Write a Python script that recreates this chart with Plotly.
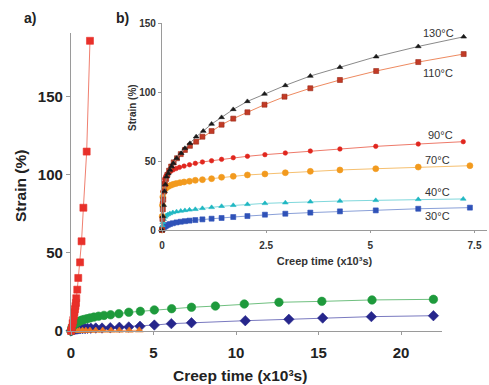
import plotly.graph_objects as go

# ---------------- Panel a) data (time in x10^3 s, strain %) ----------------
a_red_x = [0.0, 0.05, 0.1, 0.14, 0.18, 0.21, 0.24, 0.27, 0.3, 0.32, 0.38, 0.44, 0.55, 0.64, 0.75, 0.95, 1.15]
a_red_y = [0.0, 2.0, 5.0, 7.0, 10.0, 12.0, 14.0, 16.0, 18.0, 21.0, 26.5, 34.0, 44.0, 57.5, 79.0, 115.0, 186.0]

a_green_x = [0.0, 0.05, 0.1, 0.16, 0.22, 0.27, 0.32, 0.39, 0.46, 0.56, 0.67, 0.8, 0.97, 1.16, 1.39, 1.67, 2.0, 2.4,
             2.9, 3.5, 4.2, 5.05, 6.1, 7.3, 8.75, 10.5, 12.6, 15.2, 18.24, 21.96]
a_green_y = [0.0, 2.0, 3.0, 3.8, 4.4, 4.8, 5.2, 5.6, 6.0, 6.5, 7.0, 7.4, 7.9, 8.4, 8.9, 9.5, 10.0, 10.4,
             11.1, 12.0, 12.6, 13.5, 14.3, 15.2, 16.0, 17.3, 18.4, 19.0, 19.9, 20.3]

a_blue_x = [0.0, 0.1, 0.2, 0.3, 0.42, 0.55, 0.7, 0.85, 1.0, 1.2, 1.5, 1.88, 2.38, 2.93, 3.5, 4.18, 5.05, 6.08, 7.3,
            10.56, 13.2, 15.25, 18.2, 21.96]
a_blue_y = [0.0, 0.6, 0.9, 1.1, 1.3, 1.4, 1.5, 1.6, 1.7, 1.8, 1.9, 1.9, 2.1, 2.4, 2.6, 3.0, 3.8, 4.7, 5.3,
            6.6, 7.5, 8.3, 9.2, 9.8]

a_orange_x = [0.0, 0.1, 0.2, 0.35, 0.5, 0.7, 0.9, 1.15, 1.5, 1.92, 2.42, 2.93, 3.53, 4.14]
a_orange_y = [0.0, 0.1, 0.15, 0.2, 0.2, 0.25, 0.25, 0.3, 0.3, 0.35, 0.35, 0.4, 0.4, 0.45]

a_xticks = [0, 5, 10, 15, 20]
a_yticks = [0, 50, 100, 150]

# ---------------- Panel b) data ----------------
b130_x = [0.0, 0.02, 0.04, 0.06, 0.08, 0.11, 0.15, 0.19, 0.23, 0.27, 0.35, 0.46, 0.55, 0.67, 0.82, 0.99, 1.19,
          1.43, 1.71, 2.05, 2.46, 2.96, 3.56, 4.27, 5.14, 6.15, 7.24]
b130_y = [0.0, 10.0, 18.0, 28.0, 33.0, 38.6, 41.0, 43.5, 46.0, 48.3, 52.0, 55.6, 59.2, 62.8, 67.6, 71.7, 76.8,
          81.6, 87.4, 93.2, 98.6, 104.8, 111.6, 118.0, 125.6, 133.0, 140.0]

b110_x = [0.0, 0.01, 0.02, 0.03, 0.05, 0.07, 0.1, 0.13, 0.17, 0.22, 0.28, 0.36, 0.45, 0.55, 0.67, 0.82, 0.97,
          1.19, 1.43, 1.71, 2.05, 2.46, 2.94, 3.56, 4.27, 5.14, 6.15, 7.24]
b110_y = [0.0, 8.0, 15.0, 22.0, 28.0, 33.0, 37.0, 40.0, 43.0, 46.0, 49.0, 52.0, 55.0, 58.0, 61.0, 64.0, 67.6,
          71.7, 76.3, 80.7, 85.3, 90.8, 96.6, 102.7, 108.7, 115.2, 121.7, 127.5]

b90_x = [0.0, 0.01, 0.02, 0.04, 0.06, 0.09, 0.12, 0.16, 0.21, 0.27, 0.34, 0.42, 0.53, 0.66, 0.8, 0.97, 1.19,
         1.43, 1.71, 2.05, 2.47, 2.96, 3.56, 4.27, 5.13, 6.15, 7.23]
b90_y = [0.0, 20.0, 28.0, 34.0, 37.0, 39.0, 40.3, 41.5, 42.6, 43.6, 44.5, 45.4, 46.3, 47.3, 48.3, 49.3, 50.2,
         51.2, 52.4, 53.4, 54.6, 55.8, 57.2, 58.7, 60.6, 62.3, 64.0]

b70_x = [0.0, 0.005, 0.01, 0.02, 0.04, 0.07, 0.1, 0.15, 0.21, 0.27, 0.34, 0.43, 0.53, 0.66, 0.8, 0.97, 1.19,
         1.43, 1.71, 2.05, 2.47, 2.96, 3.56, 4.27, 5.13, 6.15, 7.39]
b70_y = [0.0, 10.0, 18.0, 24.0, 27.5, 29.5, 30.5, 31.5, 32.4, 33.1, 33.7, 34.3, 34.8, 35.3, 36.0, 36.5, 37.2,
         38.2, 38.9, 39.9, 40.6, 41.5, 42.5, 43.5, 44.4, 45.6, 46.6]

b40_x = [0.0, 0.01, 0.02, 0.04, 0.07, 0.1, 0.14, 0.19, 0.26, 0.35, 0.45, 0.55, 0.66, 0.8, 0.97, 1.19, 1.43,
         1.71, 2.05, 2.47, 2.96, 3.56, 4.27, 5.13, 6.15, 7.23]
b40_y = [0.0, 3.0, 5.5, 7.8, 9.5, 10.5, 11.3, 12.0, 12.7, 13.3, 13.8, 14.2, 14.6, 15.0, 15.7, 16.4, 17.2,
         17.9, 18.6, 19.3, 19.8, 20.5, 21.0, 21.5, 22.2, 22.5]

b30_x = [0.0, 0.02, 0.04, 0.07, 0.1, 0.14, 0.19, 0.26, 0.35, 0.45, 0.55, 0.66, 0.8, 0.97, 1.19, 1.43, 1.71,
         2.05, 2.47, 2.96, 3.56, 4.27, 5.13, 6.15, 7.39]
b30_y = [0.0, 1.0, 1.8, 2.5, 3.1, 3.7, 4.3, 4.9, 5.5, 6.0, 6.4, 6.8, 7.2, 7.7, 8.2, 8.7, 9.4,
         10.1, 11.1, 11.8, 12.6, 13.5, 14.2, 15.4, 16.2]

b_xticks = [0, 2.5, 5, 7.5]
b_xticklabels = ["0", "2.5", "5", "7.5"]
b_yticks = [0, 50, 100, 150]

b_labels = ["130°C", "110°C", "90°C", "70°C", "40°C", "30°C"]
b_label_x = [6.63, 6.63, 6.68, 6.6, 6.6, 6.6]
b_label_y = [142.8, 113.8, 68.8, 50.7, 27.5, 10.1]

FONT = "Liberation Sans, Arial, sans-serif"

fig = go.Figure()


def add(x, y, mcolor, lcolor, symbol, size, xa="x", ya="y", lw=1, mline=None):
    fig.add_trace(go.Scatter(
        x=x, y=y, mode="lines+markers", xaxis=xa, yaxis=ya, cliponaxis=False,
        line=dict(color=lcolor, width=lw),
        marker=dict(color=mcolor, symbol=symbol, size=size,
                    line=dict(width=0.6, color=mline or mcolor)),
        showlegend=False, hoverinfo="skip"))


# panel a
add(a_blue_x, a_blue_y, "#26268c", "#7a7ac0", "diamond", 8)
add(a_orange_x, a_orange_y, "#f07a22", "#f4a070", "triangle-up", 7)
add(a_green_x, a_green_y, "#1e9a3c", "#70c080", "circle", 8.5)
add(a_red_x, a_red_y, "#e8302a", "#f08070", "square", 7)

# panel b
add(b30_x, b30_y, "#2f52b8", "#8aa0d8", "square", 5, "x2", "y2")
add(b40_x, b40_y, "#1fb7c2", "#80d8dc", "triangle-up", 5, "x2", "y2")
add(b70_x, b70_y, "#f29a1e", "#f6c070", "circle", 6, "x2", "y2")
add(b90_x, b90_y, "#e0261e", "#ee7a6a", "circle", 4.5, "x2", "y2")
add(b110_x, b110_y, "#c23a26", "#ee8a60", "square", 5, "x2", "y2", mline="#9a2a18")
add(b130_x, b130_y, "#1a1a1a", "#8a8a8a", "triangle-up", 5, "x2", "y2")

base = dict(showgrid=False, zeroline=False, showline=True, linecolor="#9a9a9a", linewidth=1.2,
            ticks="outside", tickcolor="#9a9a9a", tickwidth=1, automargin=False)

fig.update_layout(
    width=489, height=385, margin=dict(l=0, r=0, t=0, b=0),
    paper_bgcolor="white", plot_bgcolor="rgba(0,0,0,0)",
    font=dict(family=FONT, color="#222"),
    xaxis=dict(domain=[71 / 489, 442 / 489], range=[0, 22.48], tickvals=a_xticks, ticklen=3,
               ticklabelstandoff=5,
               tickfont=dict(size=15, color="#222", family=FONT, weight="bold"),
               anchor="y", **base),
    yaxis=dict(domain=[(385 - 331) / 385, (385 - 33) / 385], range=[0, 191], tickvals=a_yticks, ticklen=4,
               tickfont=dict(size=15, color="#222", family=FONT, weight="bold"),
               anchor="x", **base),
    xaxis2=dict(domain=[162 / 489, 487 / 489], range=[0, 7.8], tickvals=b_xticks, ticktext=b_xticklabels,
                ticklen=2, ticklabelstandoff=4,
                tickfont=dict(size=10, color="#333", family=FONT, weight="bold"),
                title=dict(text="<b>Creep time (x10³s)</b>", font=dict(size=11, color="#333"), standoff=7),
                anchor="y2", **base),
    yaxis2=dict(domain=[(385 - 230) / 385, (385 - 23) / 385], range=[0, 150], tickvals=b_yticks,
                ticklen=3, tickfont=dict(size=10, color="#333", family=FONT, weight="bold"),
                anchor="x2", **base),
)

# axis titles placed as in the original
fig.add_annotation(x=240 / 489, y=1 - 375 / 385, xref="paper", yref="paper", text="<b>Creep time (x10³s)</b>",
                   xanchor="center", yanchor="middle",
                   showarrow=False, font=dict(size=15.5, color="#222", family=FONT))
fig.add_annotation(x=21 / 489, y=1 - 186 / 385, xref="paper", yref="paper", text="<b>Strain (%)</b>",
                   xanchor="center", yanchor="middle",
                   textangle=-90, showarrow=False, font=dict(size=15.5, color="#222", family=FONT))
fig.add_annotation(x=132 / 489, y=1 - 108 / 385, xref="paper", yref="paper", text="<b>Strain (%)</b>",
                   xanchor="center", yanchor="middle",
                   textangle=-90, showarrow=False, font=dict(size=10, color="#333", family=FONT))

for t, lx, ly in zip(b_labels, b_label_x, b_label_y):
    fig.add_annotation(x=lx, y=ly, xref="x2", yref="y2", text=t, showarrow=False,
                       xanchor="center", yanchor="middle",
                       font=dict(size=11, color="#333", family=FONT))

fig.add_annotation(x=30 / 489, y=1 - 18 / 385, xref="paper", yref="paper", text="<b>a)</b>", showarrow=False,
                   xanchor="center", yanchor="middle", font=dict(size=14, color="#222", family=FONT))
fig.add_annotation(x=122 / 489, y=1 - 18 / 385, xref="paper", yref="paper", text="<b>b)</b>", showarrow=False,
                   xanchor="center", yanchor="middle", font=dict(size=14, color="#222", family=FONT))

fig.write_html("out.html", config={"displayModeBar": False},
               post_script="document.body.style.margin='0';document.body.style.overflow='hidden';")
